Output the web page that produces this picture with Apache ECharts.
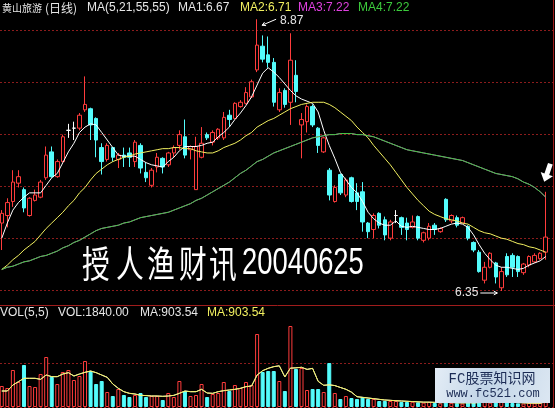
<!DOCTYPE html>
<html>
<head>
<meta charset="utf-8">
<script src="https://cdn.jsdelivr.net/npm/echarts@6/dist/echarts.min.js"></script>
<style>
html,body{margin:0;padding:0;background:#000;}
#chart{width:555px;height:408px;}
</style>
</head>
<body>
<div id="chart"></div>
<script>
// 黄山旅游 daily K-line: OHLC, volume and moving averages
const stockName = '黄山旅游';
const periodName = '(日线)';
const maParams = 'MA(5,21,55,55)';
const volParams = 'VOL(5,5)';
const caption = '授人渔财讯';
const captionDate = '20040625';

const opens = [
  6.98,7.05,7.18,7.35,7.29,7.05,7.19,7.22,7.40,7.64,
  7.41,7.55,7.84,7.86,7.86,8.03,8.04,7.95,7.68,7.57,
  7.68,7.57,7.61,7.63,7.55,7.70,7.45,7.33,7.50,7.58,
  7.52,7.63,7.70,7.78,7.66,7.29,7.59,7.80,7.73,7.77,
  7.77,7.98,7.95,8.06,8.09,8.15,8.40,8.62,8.54,8.47,
  8.03,8.21,8.10,8.35,7.89,7.92,8.06,7.86,7.64,7.47,
  7.18,7.43,7.24,7.40,7.26,7.27,6.98,6.92,7.07,7.01,
  6.84,7.05,7.03,6.98,6.94,7.04,6.82,6.84,6.96,6.90,
  7.20,7.00,7.03,6.98,6.95,6.80,6.71,6.45,6.57,6.61,
  6.38,6.67,6.68,6.67,6.52,6.59,6.62,6.65,6.71
];
const closes = [
  7.07,7.17,7.36,7.41,7.12,7.21,7.24,7.36,7.61,7.41,
  7.55,7.78,7.84,7.86,7.98,8.08,7.89,7.75,7.55,7.70,
  7.59,7.61,7.59,7.59,7.73,7.49,7.40,7.47,7.59,7.50,
  7.63,7.68,7.80,7.61,7.69,7.69,7.72,7.77,7.82,7.85,
  7.96,7.94,8.09,8.10,8.19,8.29,8.63,8.50,8.47,8.10,
  8.19,8.08,8.49,8.20,7.94,8.06,7.89,7.70,7.77,7.24,
  7.31,7.26,7.38,7.18,7.18,6.99,6.90,7.05,6.96,6.87,
  6.99,7.05,6.94,6.92,6.99,6.84,6.89,6.95,6.92,6.93,
  7.01,7.05,6.96,7.03,6.84,6.73,6.53,6.57,6.70,6.48,
  6.53,6.50,6.57,6.53,6.60,6.67,6.68,6.70,6.85
];
const lows = [
  6.73,6.94,7.13,7.31,7.08,7.04,7.18,7.21,7.38,7.40,
  7.40,7.54,7.77,7.75,7.84,8.01,7.75,7.59,7.43,7.55,
  7.55,7.49,7.50,7.50,7.50,7.44,7.36,7.31,7.45,7.44,
  7.50,7.59,7.66,7.58,7.57,7.29,7.58,7.75,7.70,7.75,
  7.75,7.87,7.94,8.05,8.08,8.14,8.38,8.47,8.42,8.06,
  8.01,8.05,7.89,8.10,7.58,7.82,7.87,7.63,7.63,7.19,
  7.17,7.24,7.22,7.17,7.10,6.90,6.84,6.84,6.93,6.82,
  6.82,6.98,6.87,6.82,6.93,6.82,6.80,6.82,6.87,6.89,
  6.99,6.98,6.94,6.98,6.82,6.71,6.52,6.42,6.56,6.42,
  6.35,6.48,6.48,6.48,6.50,6.57,6.61,6.64,6.64
];
const highs = [
  7.10,7.21,7.47,7.47,7.31,7.22,7.29,7.38,7.69,7.69,
  7.57,7.80,7.90,7.92,8.00,8.34,8.05,7.96,7.72,7.72,
  7.68,7.63,7.68,7.68,7.75,7.72,7.54,7.49,7.63,7.59,
  7.64,7.70,7.84,7.94,7.70,7.78,7.87,7.82,7.84,7.86,
  8.01,8.03,8.10,8.12,8.24,8.31,8.87,8.72,8.71,8.51,
  8.23,8.23,8.74,8.49,8.00,8.08,8.08,7.87,7.78,7.49,
  7.33,7.44,7.40,7.41,7.35,7.36,6.99,7.07,7.08,7.04,
  7.01,7.10,7.04,7.03,7.05,7.05,6.90,6.98,6.98,6.94,
  7.21,7.06,7.05,7.04,6.96,6.81,6.73,6.62,6.71,6.62,
  6.57,6.70,6.70,6.68,6.61,6.68,6.70,6.71,7.27
];
const volumes = [
  3675,3325,6475,4375,7350,3675,3500,5775,8750,5250,
  4025,6125,6475,4725,5425,8050,6300,4025,4550,2625,
  1925,3150,2100,1750,2100,2450,1750,1925,1925,1225,
  2450,1750,4550,2800,1925,2100,4025,1750,2275,2450,
  4375,2800,3850,3325,4375,3850,12775,6125,6300,6300,
  4550,2800,14175,6650,6825,2975,3150,3150,2625,7700,
  2450,1400,1925,1575,1400,1750,1400,1400,1050,1050,
  1050,1050,875,875,910,820,760,880,700,640,
  950,720,680,600,780,830,990,870,760,820,
  930,780,700,640,612.5,705.2,668,692,1840
];
const ma5 = [
  6.84,6.98,7.10,7.17,7.22,7.26,7.26,7.26,7.33,7.40,
  7.44,7.54,7.64,7.72,7.82,7.87,7.90,7.89,7.82,7.75,
  7.68,7.61,7.60,7.60,7.60,7.57,7.54,7.52,7.51,7.50,
  7.55,7.59,7.65,7.69,7.69,7.69,7.70,7.72,7.73,7.78,
  7.82,7.87,7.94,8.00,8.07,8.15,8.26,8.37,8.42,8.38,
  8.33,8.27,8.21,8.16,8.13,8.11,8.09,8.01,7.84,7.70,
  7.58,7.45,7.38,7.31,7.26,7.18,7.08,7.02,6.98,6.96,
  6.96,7.00,6.95,6.94,6.95,6.94,6.93,6.92,6.92,6.93,
  6.95,6.97,6.98,6.97,6.94,6.87,6.78,6.70,6.64,6.59,
  6.57,6.57,6.56,6.55,6.56,6.59,6.61,6.63,6.67
];
const ma21 = [
  6.55,6.59,6.64,6.68,6.73,6.77,6.81,6.87,6.93,6.98,
  7.03,7.08,7.14,7.19,7.26,7.31,7.38,7.44,7.48,7.52,
  7.55,7.57,7.59,7.60,7.62,7.63,7.64,7.65,7.66,7.67,
  7.67,7.68,7.68,7.67,7.67,7.65,7.64,7.63,7.63,7.65,
  7.68,7.70,7.72,7.75,7.79,7.82,7.87,7.90,7.93,7.95,
  7.98,8.01,8.04,8.06,8.08,8.09,8.10,8.10,8.10,8.08,
  8.05,8.01,7.97,7.93,7.87,7.82,7.77,7.70,7.64,7.58,
  7.52,7.45,7.38,7.31,7.25,7.19,7.14,7.09,7.06,7.04,
  7.02,7.01,7.00,6.98,6.97,6.94,6.91,6.89,6.88,6.86,
  6.84,6.83,6.81,6.79,6.78,6.76,6.75,6.73,6.71
];
const ma55 = [
  6.55,6.57,6.58,6.60,6.62,6.63,6.65,6.67,6.68,6.70,
  6.72,6.75,6.77,6.80,6.82,6.85,6.88,6.91,6.93,6.94,
  6.95,6.96,6.98,6.99,7.01,7.03,7.04,7.05,7.06,7.07,
  7.08,7.10,7.12,7.14,7.16,7.19,7.21,7.24,7.27,7.30,
  7.33,7.36,7.40,7.44,7.47,7.51,7.55,7.57,7.60,7.63,
  7.65,7.67,7.69,7.71,7.73,7.75,7.77,7.78,7.79,7.80,
  7.80,7.81,7.81,7.81,7.80,7.80,7.79,7.78,7.76,7.74,
  7.72,7.70,7.68,7.66,7.65,7.64,7.63,7.62,7.61,7.60,
  7.59,7.58,7.57,7.56,7.54,7.52,7.50,7.48,7.46,7.44,
  7.43,7.42,7.41,7.39,7.36,7.34,7.31,7.27,7.22
];
const volMa5 = [
  2800,2800,3850,4430,5020,5020,5020,4840,5600,5310,
  5310,5775,6010,5425,5775,6070,6300,6010,5600,5190,
  4025,3270,2680,2390,2275,2040,2000,1925,1925,1870,
  1925,2040,2390,2800,2680,2680,3090,2450,2390,2680,
  2860,2975,3090,3270,3560,3675,5600,6360,6770,7060,
  7210,5260,6800,6850,6950,6580,6760,4490,3800,3880,
  3750,3420,3100,2600,1800,1690,1575,1460,1340,1225,
  1170,1100,1050,1000,952,906,848,849,814,760,
  786,778,738,718,746,722,776,814,846,854,
  874,832,798,774,732.5,687.54,665.14,663.54,903.54
];
const days = closes.map((_, i) => i + 1);

const UP = '#ff3c3c';
const DOWN = '#54fcfc';
const GRIDLINE = '#8c1c1c';
const C_WHITE = '#e6e6e6';
const C_YELLOW = '#f2f060';
const C_MAGENTA = '#e040e0';
const C_GREEN = '#3ccc3c';
const LATIN = '"Liberation Sans", Arial, sans-serif';
const CJK = '"Noto Sans CJK SC", sans-serif';

const last = a => a[a.length - 1];
const f2 = v => v.toFixed(2);

const candles = opens.map((o, i) => [o, closes[i], lows[i], highs[i]]);
const volBars = volumes.map((v, i) => {
  const down = closes[i] < opens[i];
  return {
    value: v,
    itemStyle: down ? { color: DOWN, borderColor: DOWN } : { color: '#000', borderColor: UP }
  };
});

const chart = echarts.init(document.getElementById('chart'), null, { renderer: 'canvas' });

const dotted = { show: true, lineStyle: { color: GRIDLINE, type: [2, 2], width: 1 } };
const lineAxis = (gi, max) => ({
  gridIndex: gi, type: 'value', min: 0, max: max, interval: 1,
  axisLine: { show: false }, axisTick: { show: false }, axisLabel: { show: false },
  splitLine: dotted
});

const maLine = (data, color, xi, yi, z) => ({
  type: 'line', data: data, xAxisIndex: xi, yAxisIndex: yi,
  symbol: 'none', silent: true, z: z,
  lineStyle: { color: color, width: 1 }
});

chart.setOption({
  backgroundColor: '#000',
  animation: false,
  grid: [
    { left: -1, width: 549.5, top: 16, height: 275, outerBoundsMode: 'none' },
    { left: -1, width: 549.5, top: 320, height: 87, outerBoundsMode: 'none' },
    { left: 0, width: 553, top: 30, height: 260, outerBoundsMode: 'none' },
    { left: 0, width: 553, top: 363, height: 44, outerBoundsMode: 'none' }
  ],
  xAxis: [
    { gridIndex: 0, type: 'category', data: days, show: false },
    { gridIndex: 1, type: 'category', data: days, show: false },
    { gridIndex: 2, type: 'value', min: 0, max: 1, show: false },
    { gridIndex: 3, type: 'value', min: 0, max: 1, show: false }
  ],
  yAxis: [
    { gridIndex: 0, type: 'value', min: 6.35, max: 8.90, show: false },
    { gridIndex: 1, type: 'value', min: 0, max: 15225, show: false },
    lineAxis(2, 5),
    lineAxis(3, 1)
  ],
  series: [
    {
      type: 'candlestick', data: candles, xAxisIndex: 0, yAxisIndex: 0,
      barWidth: 4, clip: false, z: 2,
      itemStyle: {
        color: '#000', color0: DOWN,
        borderColor: UP, borderColor0: DOWN,
        borderColorDoji: '#ffffff', borderWidth: 1
      }
    },
    maLine(ma5, '#ffffff', 0, 0, 4),
    maLine(ma21, C_YELLOW, 0, 0, 4),
    maLine(ma55, C_MAGENTA, 0, 0, 3),
    maLine(ma55, C_GREEN, 0, 0, 4),
    {
      type: 'bar', data: volBars, xAxisIndex: 1, yAxisIndex: 1,
      barWidth: 4, z: 2, itemStyle: { borderWidth: 1 }
    },
    maLine(volMa5, '#ffffff', 1, 1, 3),
    maLine(volMa5, C_YELLOW, 1, 1, 4)
  ]
});

// annotations placed through the price scale
const hiIdx = highs.indexOf(Math.max(...highs));
const loIdx = lows.indexOf(Math.min(...lows));
const endIdx = highs.length - 1;
const hp = chart.convertToPixel({ gridIndex: 0 }, [hiIdx, highs[hiIdx]]);
const lp = chart.convertToPixel({ gridIndex: 0 }, [loIdx, lows[loIdx]]);
const ep = chart.convertToPixel({ gridIndex: 0 }, [endIdx, highs[endIdx]]);

function arrow(x1, y1, x2, y2, head) {
  const a = Math.atan2(y2 - y1, x2 - x1);
  const h1 = [x2 - head * Math.cos(a - 0.5), y2 - head * Math.sin(a - 0.5)];
  const h2 = [x2 - head * Math.cos(a + 0.5), y2 - head * Math.sin(a + 0.5)];
  return [
    { type: 'line', shape: { x1, y1, x2, y2 }, style: { stroke: '#ffffff', lineWidth: 1 }, z: 20 },
    { type: 'polyline', shape: { points: [h1, [x2, y2], h2] }, style: { stroke: '#ffffff', lineWidth: 1, fill: null }, z: 20 }
  ];
}

const txt = (x, y, text, fill, font, extra) => Object.assign({
  type: 'text', x: x, y: y, z: 20,
  style: { text: text, fill: fill, font: font, align: 'left', verticalAlign: 'middle' }
}, extra || {});

const header = '12px ' + LATIN;

const graphics = [
  // pane borders
  { type: 'line', shape: { x1: 0, y1: 305.5, x2: 555, y2: 305.5 }, style: { stroke: '#a01c1c', lineWidth: 1 }, z: 5 },
  { type: 'line', shape: { x1: 553.5, y1: 0, x2: 553.5, y2: 408 }, style: { stroke: '#a01c1c', lineWidth: 1 }, z: 5 },

  // price pane header
  txt(2, 8, stockName, C_WHITE, '10px ' + CJK),
  txt(45, 8, periodName, C_WHITE, '12px ' + CJK),
  txt(87, 8, maParams, C_WHITE, header),
  txt(178, 8, 'MA1:' + f2(last(ma5)), C_WHITE, header),
  txt(240, 8, 'MA2:' + f2(last(ma21)), C_YELLOW, header),
  txt(298, 8, 'MA3:' + f2(last(ma55)), C_MAGENTA, header),
  txt(358, 8, 'MA4:' + f2(last(ma55)), C_GREEN, header),

  // volume pane header
  txt(0, 313, volParams, C_WHITE, header),
  txt(58, 313, 'VOL:' + f2(last(volumes)), C_WHITE, header),
  txt(140, 313, 'MA:' + f2(last(volMa5)), C_WHITE, header),
  txt(207, 313, 'MA:' + f2(last(volMa5)), C_YELLOW, header),

  // highest / lowest price markers
  ...arrow(hp[0] + 19, hp[1], hp[0] + 5, hp[1] + 6, 4),
  txt(hp[0] + 23, hp[1] + 1, f2(highs[hiIdx]), C_WHITE, header),
  ...arrow(lp[0] - 21, lp[1] + 2, lp[0] - 4, lp[1] + 2, 4),
  txt(lp[0] - 23, lp[1] + 2, f2(lows[loIdx]), C_WHITE, header,
      { style: { text: f2(lows[loIdx]), fill: C_WHITE, font: header, align: 'right', verticalAlign: 'middle' } }),

  // down arrow over the last session
  {
    type: 'polygon', x: ep[0] - 1.5, y: ep[1] - 10, rotation: -0.33, z: 20,
    shape: { points: [[0, 0], [-6.5, -8], [-2.5, -8], [-2.5, -19], [2.5, -19], [2.5, -8], [6.5, -8]] },
    style: { fill: '#ffffff' }
  }
];

// large caption across the price pane
const capXs = [82, 116, 147, 179, 209];
caption.split('').forEach((ch, i) => {
  graphics.push(txt(capXs[i], 264, ch, '#ffffff', '37px ' + CJK, { scaleX: 0.75 }));
});
graphics.push(txt(242, 264, captionDate, '#ffffff', '37px ' + LATIN, { scaleX: 0.74 }));

// site badge in the volume pane
graphics.push({
  type: 'rect', z: 30,
  shape: { x: 435, y: 368, width: 115, height: 35 },
  style: {
    fill: {
      type: 'linear', x: 0, y: 0, x2: 1, y2: 1,
      colorStops: [
        { offset: 0, color: '#e4edf6' },
        { offset: 0.45, color: '#c2d5e8' },
        { offset: 1, color: '#dce7f2' }
      ]
    }
  }
});
graphics.push({
  type: 'text', z: 31, x: 492, y: 379,
  style: { text: 'FC股票知识网', fill: '#1c2c55', font: '14px "Liberation Mono", ' + CJK, align: 'center', verticalAlign: 'middle' }
});
graphics.push({
  type: 'text', z: 31, x: 493, y: 394,
  style: { text: 'www.fc521.com', fill: '#1c2c55', font: '12px "Liberation Mono", monospace', align: 'center', verticalAlign: 'middle' }
});

chart.setOption({ graphic: graphics });
</script>
</body>
</html>
